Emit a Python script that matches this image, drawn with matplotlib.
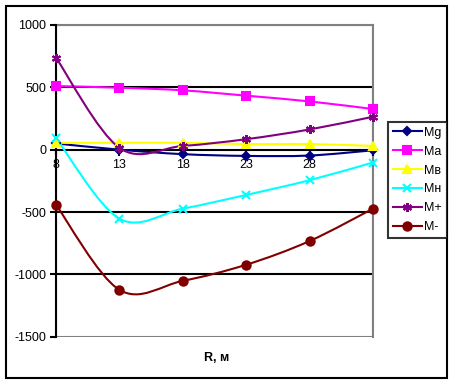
import numpy as np
import matplotlib
matplotlib.use("Agg")
import matplotlib.pyplot as plt
from matplotlib.path import Path
from matplotlib.patches import PathPatch, Rectangle
from matplotlib.lines import Line2D

plt.rcParams['font.family'] = ['Liberation Sans', 'DejaVu Sans']
plt.rcParams['axes.unicode_minus'] = False

# data
r = [8, 13, 18, 23, 28, 33]
mg = [50, 0, -36, -50, -47, -5]
ma = [510, 497, 476, 433, 387, 326]
mv = [55, 55, 55, 45, 45, 30]
mn = [95, -553, -473, -363, -245, -103]
mplus = [738, 15, 30, 84, 162, 264]
mminus = [-441, -1124, -1052, -923, -733, -473]

series_names = ['Mg', 'Ma', 'Mв', 'Mн', 'M+', 'M-']
series_vals = [mg, ma, mv, mn, mplus, mminus]
colors = ['#000080', '#FF00FF', '#FFFF00', '#00FFFF', '#800080', '#800000']
markers = ['D', 's', '^', 'x', (6, 2, 0), 'o']
msizes = [4.5, 5.5, 6, 5.5, 6.5, 6]

xticks = [8, 13, 18, 23, 28]
yticks = [1000, 500, 0, -500, -1000, -1500]


def smooth_path(x, y):
    # excel-like smoothed line (catmull-rom as bezier segments)
    pts = np.column_stack([x, y]).astype(float)
    ext = np.vstack([pts[0], pts, pts[-1]])
    verts = [pts[0]]
    codes = [Path.MOVETO]
    for i in range(len(pts) - 1):
        p0, p1, p2, p3 = ext[i], ext[i + 1], ext[i + 2], ext[i + 3]
        verts += [p1 + (p2 - p0) / 6, p2 - (p3 - p1) / 6, p2]
        codes += [Path.CURVE4] * 3
    return Path(verts, codes)


fig = plt.figure(figsize=(4.51, 3.82), dpi=100)
ax = fig.add_axes([0.124, 0.1186, 0.703, 0.816])
ax.set_xlim(8, 33)
ax.set_ylim(-1500, 1000)

# outer chart border
fig.patches.append(Rectangle((0.0133, 0.0105), 0.978, 0.974, transform=fig.transFigure,
                             fill=False, edgecolor='black', linewidth=1.5))

# plot area frame (grey) and gridlines (black)
for side in ['top', 'right']:
    ax.spines[side].set_color('#808080')
    ax.spines[side].set_linewidth(1.5)
ax.spines['bottom'].set_visible(False)
ax.add_patch(Rectangle((0, 0), 1, 1, transform=ax.transAxes, fill=False,
                       edgecolor='#808080', linewidth=1.5, zorder=0.5))
ax.spines['left'].set_color('black')
ax.spines['left'].set_linewidth(1.5)
ax.spines['left'].set_zorder(3)
for v in yticks:
    if v != 0 and -1500 < v < 1000:
        ax.axhline(v, color='black', linewidth=1.5, zorder=1)
ax.axhline(0, color='black', linewidth=1.5, zorder=1)

ax.set_yticks(yticks)
ax.tick_params(axis='y', direction='out', length=4, width=1.5, labelsize=9, pad=3)

# x axis crosses at 0: ticks and labels on the 0 line
ax.set_xticks([])
for xv in xticks + [33]:
    ax.plot([xv], [0], marker=3, markersize=4, color='black', mew=1.5,
            clip_on=False, zorder=3)
for xv in xticks:
    ax.annotate(str(xv), (xv, 0), xytext=(0, -6.5), textcoords='offset points',
                ha='center', va='top', fontsize=9)

handles = []
for name, vals, c, m, ms in zip(series_names, series_vals, colors, markers, msizes):
    ax.add_patch(PathPatch(smooth_path(r, vals), fill=False, edgecolor=c,
                           linewidth=1.5, zorder=4))
    ax.plot(r, vals, linestyle='none', marker=m, markersize=ms, color=c,
            markeredgecolor=c, markerfacecolor=c, mew=1.5, clip_on=False, zorder=5)
    handles.append(Line2D([], [], color=c, linewidth=1.5, marker=m, markersize=ms,
                          markerfacecolor=c, markeredgecolor=c, mew=1.5))

leg = fig.legend(handles, series_names, loc='upper left', bbox_to_anchor=(0.860, 0.681),
                 bbox_transform=fig.transFigure, borderaxespad=0, fontsize=9,
                 frameon=True, fancybox=False, handlelength=2.3, handletextpad=0.2,
                 labelspacing=0.55, borderpad=0.4)
leg.get_frame().set_edgecolor('black')
leg.get_frame().set_linewidth(1.5)

fig.text(0.481, 0.063, 'R, м', ha='center', va='center', fontsize=9, fontweight='bold')

fig.savefig('out.png', dpi=100)
